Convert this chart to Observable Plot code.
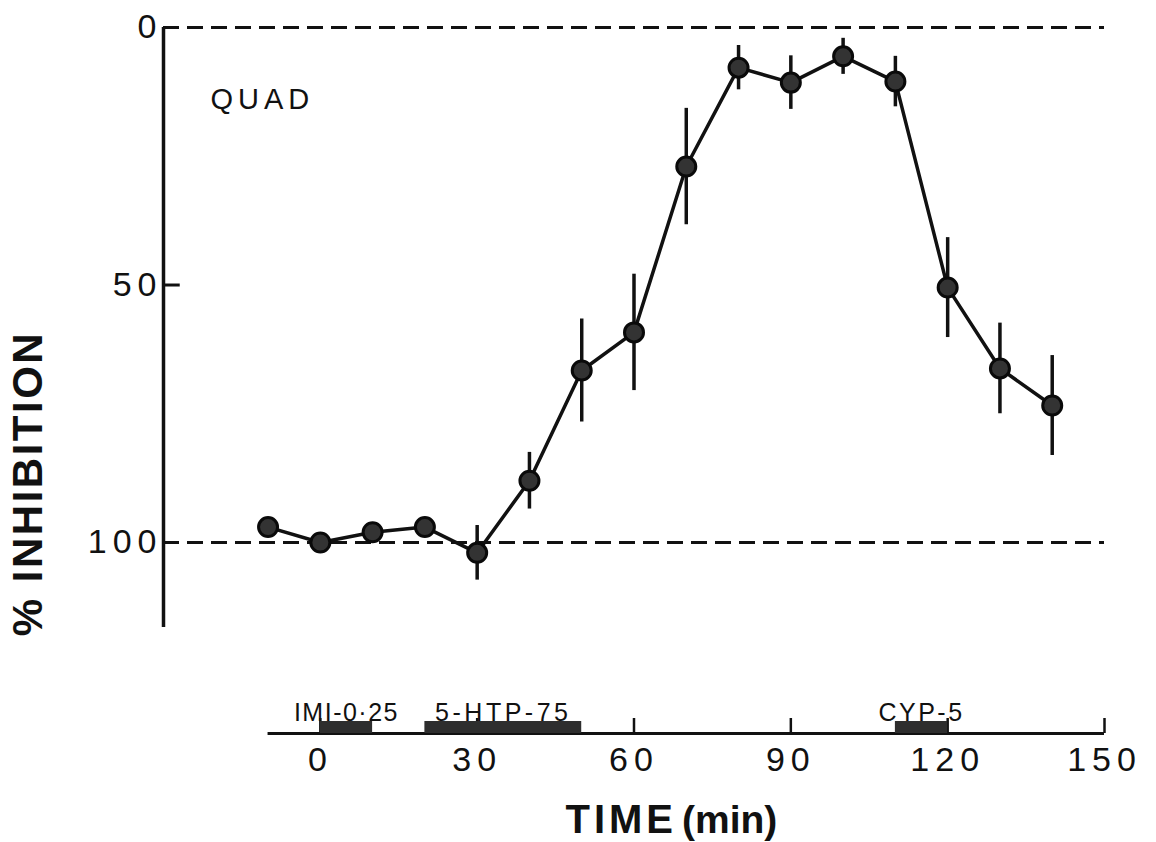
<!DOCTYPE html>
<html>
<head>
<meta charset="utf-8">
<script src="https://cdn.jsdelivr.net/npm/d3@7"></script>
<script src="https://cdn.jsdelivr.net/npm/@observablehq/plot@0.6"></script>
<style>
  html, body { margin: 0; padding: 0; background: #fff; }
  svg { display: block; }
</style>
</head>
<body>
<div id="chart"></div>
<script>
// ---- data ----
const times = [-10, 0, 10, 20, 30, 40, 50, 60, 70, 80, 90, 100, 110, 120, 130, 140];
const inhibition = [97, 100, 98, 97, 102, 88, 66.6, 59.2, 27, 7.8, 10.7, 5.6, 10.5, 50.5, 66.2, 73.4];
const errors = [null, null, null, null, 5.3, 5.5, 10, 11.3, 11.3, 4.3, 5.2, 3.5, 4.9, 9.7, 8.8, 9.7];
const yTicks = [0, 50, 100];
const refLines = [0, 100];
const xTicks = [0, 30, 60, 90, 120, 150];
const treatNames = ["IMI-0·25", "5-HTP-75", "CYP-5"];
const treatStart = [0, 20, 110];
const treatEnd = [10, 50, 120];
const panelLabel = "QUAD";
const yTitle = "% INHIBITION";
const xTitleMain = "TIME";
const xTitleUnit = "(min)";

const xDomain = [-30, 150];
const yDomain = [0, 116.5];
const axisSpan = [-10, 150];

const data = times.map((t, i) => ({t, v: inhibition[i], e: errors[i]}));
const errData = data.filter(d => d.e != null);
const treatments = treatNames.map((label, i) => ({label, start: treatStart[i], end: treatEnd[i]}));

const font = "'Liberation Sans', Arial, Helvetica, sans-serif";
const W = 1156;

const main = Plot.plot({
  width: W,
  height: 640,
  marginLeft: 163,
  marginRight: 52,
  marginTop: 27,
  marginBottom: 13,
  style: {fontFamily: font, color: "#111", background: "#fff", overflow: "visible"},
  x: {domain: xDomain, axis: null},
  y: {domain: yDomain, reverse: true},
  marks: [
    Plot.ruleY(refLines, {x1: xDomain[0], x2: xDomain[1], stroke: "#111", strokeWidth: 3, strokeDasharray: "16,8"}),
    Plot.ruleX([xDomain[0]], {y1: yDomain[0], y2: yDomain[1], stroke: "#111", strokeWidth: 3.5}),
    Plot.ruleY([yTicks[1]], {x1: xDomain[0], x2: xDomain[0] + 3.2, stroke: "#111", strokeWidth: 3}),
    Plot.axisY({ticks: yTicks, tickSize: 0, tickPadding: 1, fontSize: 34, label: null, tickFormat: d => String(d), fill: "#111"}),
    Plot.ruleX(errData, {x: "t", y1: d => d.v - d.e, y2: d => d.v + d.e, stroke: "#111", strokeWidth: 3.5}),
    Plot.line(data, {x: "t", y: "v", stroke: "#111", strokeWidth: 3.5}),
    Plot.dot(data, {x: "t", y: "v", r: 9.5, fill: "#333", stroke: "#0a0a0a", strokeWidth: 3}),
    Plot.text([panelLabel], {frameAnchor: "top-left", dx: 47, dy: 81, lineAnchor: "bottom", textAnchor: "start", fontSize: 29, fill: "#111"}),
    Plot.text([yTitle], {frameAnchor: "left", dx: -135, dy: 156, rotate: -90, textAnchor: "middle", lineAnchor: "middle", fontSize: 42, fontWeight: "bold", fill: "#111"})
  ]
});

const bottom = Plot.plot({
  width: W,
  height: 202,
  marginLeft: 163,
  marginRight: 52,
  marginTop: 0,
  marginBottom: 10,
  style: {fontFamily: font, color: "#111", background: "#fff", overflow: "visible"},
  x: {domain: xDomain, axis: null},
  y: {domain: [0, 1], range: [93, 81], axis: null},
  marks: [
    Plot.ruleY([0], {x1: axisSpan[0], x2: axisSpan[1], stroke: "#111", strokeWidth: 3}),
    Plot.ruleX(xTicks, {x: d => d, y1: 0, y2: 1.25, stroke: "#111", strokeWidth: 2.5}),
    Plot.rect(treatments, {x1: "start", x2: "end", y1: 0, y2: 1, fill: "#2e2e2e"}),
    Plot.text(treatments, {x: d => (d.start + d.end) / 2, y: 1, dy: -1, text: "label", lineAnchor: "bottom", fontSize: 25, fill: "#111"}),
    Plot.text(xTicks, {x: d => d, y: 0, dy: 27, text: d => String(d), lineAnchor: "middle", fontSize: 34, fill: "#111"}),
    Plot.text([xTitleMain], {frameAnchor: "bottom", dx: 43, lineAnchor: "bottom", textAnchor: "end", fontSize: 40, fontWeight: "bold", fill: "#111"}),
    Plot.text([xTitleUnit], {frameAnchor: "bottom", dx: 48, lineAnchor: "bottom", textAnchor: "start", fontSize: 39, fontWeight: "bold", fill: "#111"})
  ]
});

// letter spacing by text content
function spacing(svg, texts, px) {
  d3.select(svg).selectAll("text")
    .filter(function () { return texts.includes(this.textContent); })
    .style("letter-spacing", px + "px");
}
spacing(main, yTicks.map(String), 6);
spacing(main, [panelLabel], 5);
spacing(main, [yTitle], 2.5);
spacing(bottom, xTicks.map(String), 6);
spacing(bottom, [xTitleMain], 4);
spacing(bottom, [treatNames[0]], 1.5);
spacing(bottom, [treatNames[1]], 3.5);
spacing(bottom, [treatNames[2]], 2.5);

const host = document.getElementById("chart");
host.appendChild(main);
host.appendChild(bottom);
</script>
</body>
</html>
